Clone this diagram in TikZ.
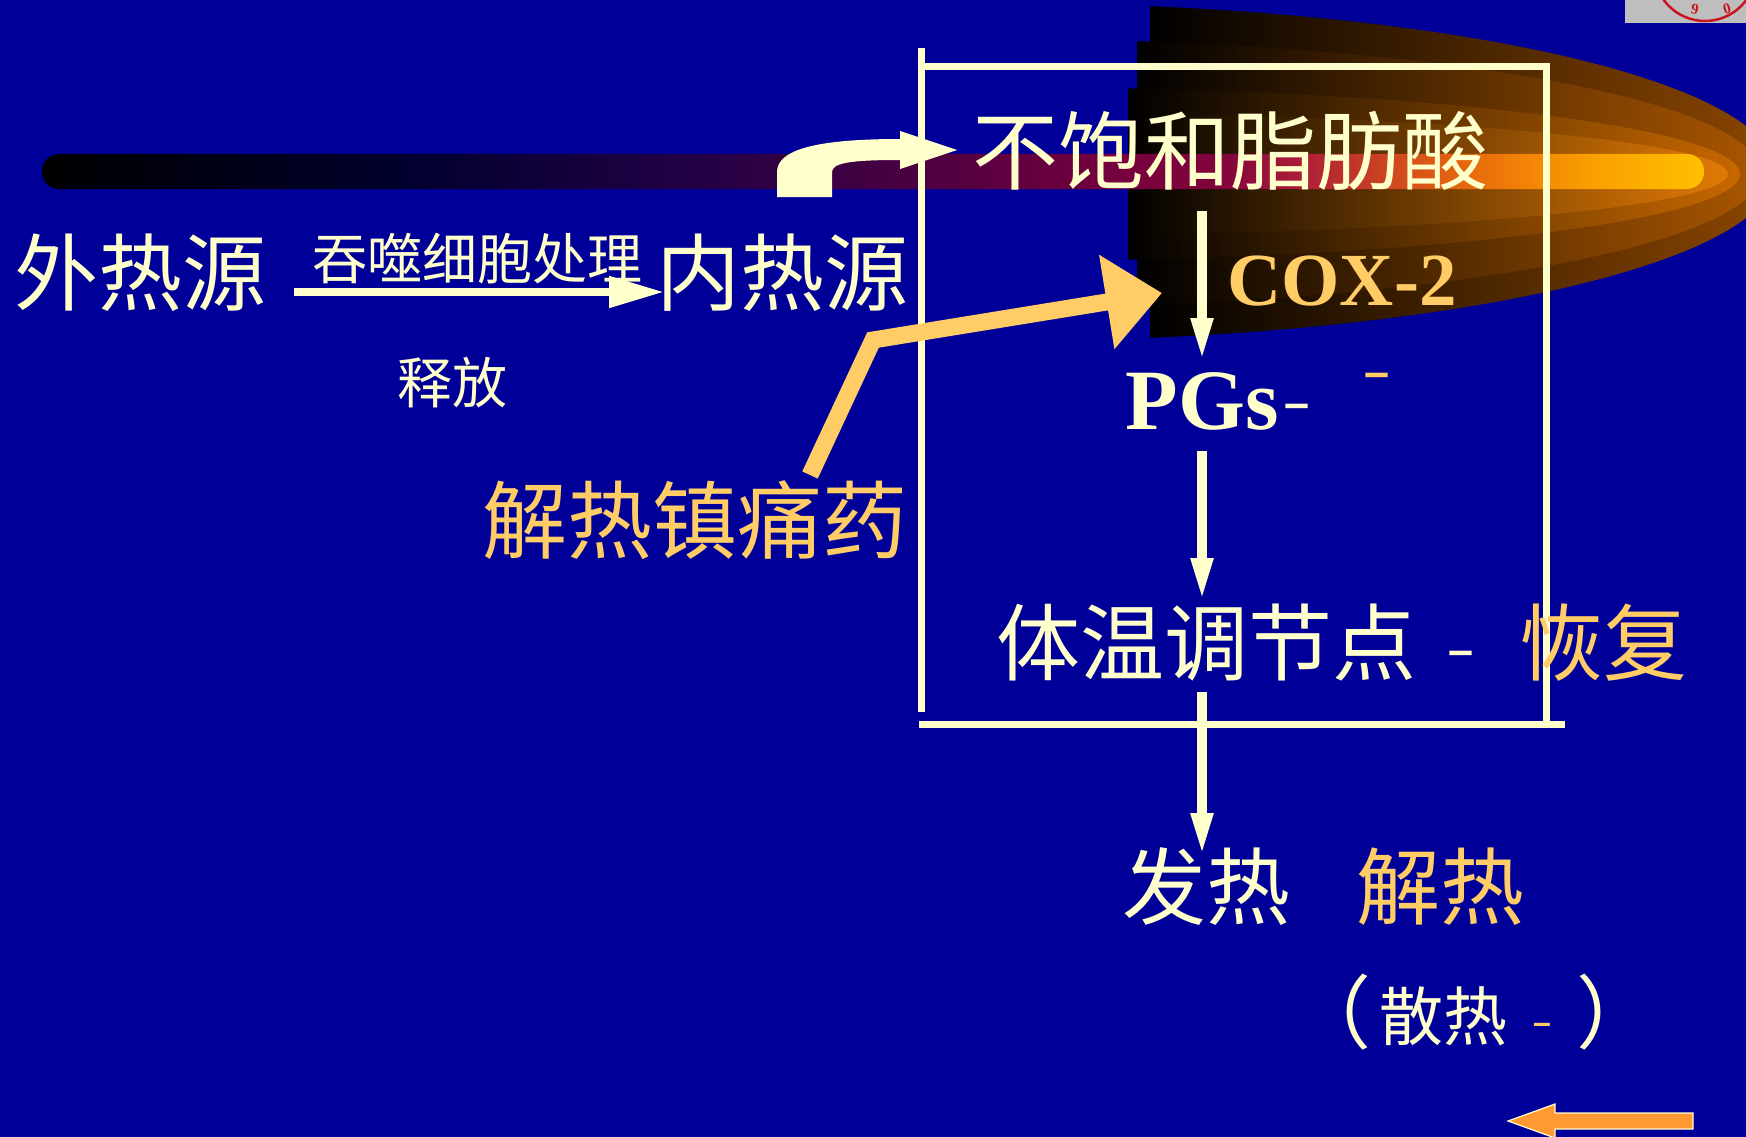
\documentclass[tikz,border=0pt]{standalone}
\usepackage{fontspec}
\newfontfamily\cjk{Noto Sans CJK SC}
\newfontfamily\romfont{Liberation Serif}
\newfontfamily\dashfont{Liberation Sans}
\usetikzlibrary{arrows.meta}

\newcommand\setfs[1]{\fontsize{#1pt}{#1pt}\selectfont}

\definecolor{bgblue}{RGB}{0,0,153}
\definecolor{cream}{RGB}{255,255,204}
\definecolor{gold}{RGB}{255,204,102}
\definecolor{tangerine}{RGB}{255,153,51}
\definecolor{stampgray}{RGB}{190,190,190}
\definecolor{stampred}{RGB}{200,20,30}

% colours of the glowing bar
\definecolor{barA}{RGB}{0,0,45}
\definecolor{barB}{RGB}{35,0,70}
\definecolor{barC}{RGB}{72,0,65}
\definecolor{barD}{RGB}{115,0,62}
\definecolor{barE}{RGB}{130,5,60}
\definecolor{barF}{RGB}{175,30,55}
\definecolor{barG}{RGB}{220,90,20}
\definecolor{barH}{RGB}{240,125,8}
\definecolor{barI}{RGB}{250,160,0}
\definecolor{barJ}{RGB}{255,192,0}
\pgfdeclarehorizontalshading{barshade}{100bp}{%
  color(0bp)=(black); color(25bp)=(black);
  color(35.8bp)=(barA); color(44.8bp)=(barB); color(50.8bp)=(barC);
  color(56.8bp)=(barD); color(60.6bp)=(barE); color(63bp)=(barF);
  color(66.8bp)=(barG); color(69.2bp)=(barH); color(71.7bp)=(barI);
  color(75bp)=(barJ); color(100bp)=(barJ)}

\definecolor{cometA}{RGB}{140,70,0}
\definecolor{cometB}{RGB}{170,86,0}
\definecolor{cometC}{RGB}{200,104,0}
\definecolor{cometD}{RGB}{225,122,5}

% one layer of the comet: left x, ellipse centre x, centre y, x radius, y radius, colour
\newcommand\cometlayer[6]{%
  \begin{scope}
    \clip (#1,-20) rectangle (1800,400);
    \clip (#2,#3) ellipse [x radius=#4pt, y radius=#5pt];
    \shade[left color=black, right color=#6] (#1,#3-#5) rectangle (#2+#4,#3+#5);
  \end{scope}}

\begin{document}
\begin{tikzpicture}[x=1pt,y=-1pt,
  cn/.style={inner sep=0pt, text=cream, font={\cjk\setfs{84}}},
  cnsmall/.style={cn, font={\cjk\setfs{55}}},
  paren/.style={cn, font={\cjk\setfs{80}}},
  latin/.style={inner sep=0pt, text=cream, font={\romfont\bfseries\setfs{86}}},
  dashmark/.style={inner sep=0pt, anchor=base, text=cream, font={\dashfont\bfseries\setfs{45}}},
  boxline/.style={draw=cream, line width=7pt},
  varr/.style={draw=cream, line width=10pt, -{Triangle[length=44pt,width=20pt]}},
]
\useasboundingbox (0,0) rectangle (1746,1137);
\fill[bgblue] (0,0) rectangle (1746,1137);

% stamp in the corner
\begin{scope}
  \clip (1625,0) rectangle (1746,23);
  \fill[stampgray] (1625,0) rectangle (1746,23);
  \draw[stampred, line width=2.5pt] (1705,-30) circle [radius=51pt];
  \node[inner sep=0pt, text=stampred, font={\romfont\bfseries\setfs{15}}, rotate=-10] (stampnine) at (1695,9) {9};
  \node[inner sep=0pt, text=stampred, font={\romfont\bfseries\setfs{15}}, rotate=15] (stampzero) at (1727,9) {0};
\end{scope}

% comet glow
\cometlayer{1150}{1000}{172}{775}{169}{cometA}
\cometlayer{1137}{1000}{173}{760}{134}{cometB}
\cometlayer{1128}{1000}{174}{740}{87}{cometC}
\cometlayer{1128}{1000}{174}{728}{62}{cometD}

% glowing bar
\shade[shading=barshade, rounded corners=17pt] (42,154) rectangle (1704,189);

% curved block arrow
\fill[cream] (777,197) -- (777,172) .. controls (777,150) and (815,139) .. (900,139)
  -- (900,131) -- (957,150) -- (900,169) -- (900,160)
  .. controls (850,160) and (832,163) .. (832,172) -- (832,197) -- cycle;

% frame
\draw[boxline] (921,48) -- (921,712);
\draw[boxline] (921,67) -- (1549.5,67);
\draw[boxline] (1546,67) -- (1546,724);
\draw[boxline] (919,724) -- (1565,724);

% texts
\node[cn] (wai) at (140,273) {外热源};
\node[cnsmall] (tun) at (477,259) {吞噬细胞处理};
\node[cn] (nei) at (782,273) {内热源};
\node[cnsmall] (shi) at (452,383) {释放};
\node[cn, font={\cjk\setfs{86}}] (ufa) at (1230,151) {不饱和脂肪酸};
\node[latin, text=gold, font={\romfont\bfseries\setfs{75}}, anchor=base] (cox) at (1342,305) {COX-2};
\node[latin, anchor=base] (pgs) at (1202,429) {PGs};
\node[dashmark] (pgsdash) at (1297,418.5) {–};
\node[dashmark, text=gold] (golddash) at (1377,387.5) {–};
\node[cn] (tiwen) at (1206,643) {体温调节点};
\node[dashmark] (tiwendash) at (1461,665.5) {–};
\node[cn, text=gold] (huifu) at (1603,643) {恢复};
\node[cn, text=gold, font={\cjk\setfs{85}}] (yao) at (695,520) {解热镇痛药};
\node[cn] (fare) at (1206,887) {发热};
\node[cn, text=gold] (jiere) at (1440,887) {解热};
\node[paren, anchor=west] (lparen) at (1291,1012) {（};
\node[cn, font={\cjk\setfs{64}}, anchor=east] (sanre) at (1508,1016) {散热};
\node[dashmark, text=gold, font={\dashfont\bfseries\setfs{32}}] (sanredash) at (1542,1033) {–};
\node[paren, anchor=west] (rparen) at (1576,1012) {）};

\coordinate (axis) at (1202,0);

% connectors
\draw[draw=cream, line width=8pt, -{Triangle[length=55pt,width=30pt]}]
  ([xshift=154pt,yshift=-19pt]wai.center) -- ([xshift=-118pt,yshift=-19pt]nei.center);
\draw[varr] ([yshift=-60pt]ufa.center -| axis) -- ([yshift=67pt]pgs.base -| axis);
\draw[varr] ([yshift=-22pt]pgs.base -| axis) -- ([yshift=41pt]tiwen.center -| axis);
\draw[varr] ([yshift=-49pt]tiwen.center -| axis) -- ([yshift=30pt]fare.center -| axis);
\draw[draw=gold, line width=17pt, line join=miter, -{Triangle[length=56pt,width=92pt]}]
  ([xshift=115pt,yshift=45pt]yao.center) -- ++(63,-135) -- ([xshift=-180pt,yshift=12pt]cox.base);

% orange block arrow at the bottom
\filldraw[fill=tangerine, draw=cream, line width=1.2pt]
  (1693,1113) -- (1555,1113) -- (1555,1104) -- (1508,1121) -- (1555,1138)
  -- (1555,1129) -- (1693,1129) -- cycle;
\end{tikzpicture}
\end{document}
